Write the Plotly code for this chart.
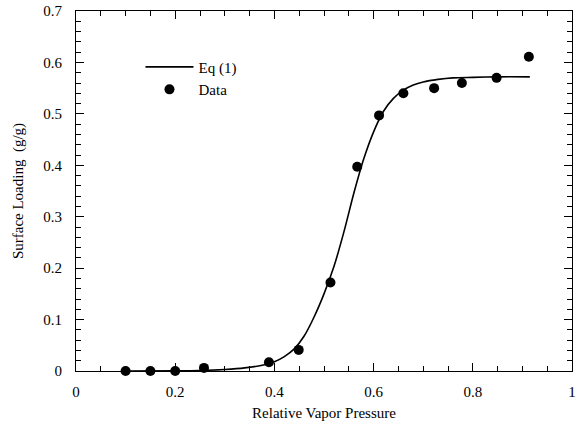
import plotly.graph_objects as go

# Measured data (relative vapor pressure, surface loading g/g)
data_x = [0.10, 0.15, 0.20, 0.258, 0.389, 0.449, 0.513, 0.567, 0.611, 0.660, 0.722, 0.778, 0.848, 0.913]
data_y = [0.000, 0.000, 0.000, 0.006, 0.017, 0.041, 0.172, 0.397, 0.497, 0.540, 0.550, 0.560, 0.570, 0.611]

# Eq (1) curve
curve_x = [0.10, 0.20, 0.25, 0.30, 0.34, 0.38, 0.40, 0.42, 0.44, 0.46, 0.48, 0.50, 0.52, 0.54,
           0.56, 0.58, 0.60, 0.62, 0.64, 0.66, 0.68, 0.70, 0.73, 0.76, 0.80, 0.85, 0.915]
curve_y = [0.000, 0.0003, 0.001, 0.003, 0.006, 0.012, 0.018, 0.028, 0.043, 0.068, 0.105, 0.150,
           0.203, 0.270, 0.345, 0.412, 0.465, 0.505, 0.530, 0.546, 0.556, 0.562, 0.567, 0.570,
           0.571, 0.572, 0.572]

x_ticks = [0, 0.2, 0.4, 0.6, 0.8, 1]
x_labels = ["0", "0.2", "0.4", "0.6", "0.8", "1"]
y_ticks = [0, 0.1, 0.2, 0.3, 0.4, 0.5, 0.6, 0.7]
y_labels = ["0", "0.1", "0.2", "0.3", "0.4", "0.5", "0.6", "0.7"]

FONT = "Liberation Serif, Times New Roman, serif"

fig = go.Figure()
fig.add_trace(go.Scatter(x=curve_x, y=curve_y, mode="lines", name="Eq (1)",
                         line=dict(color="black", width=1.6, shape="spline", smoothing=0.8)))
fig.add_trace(go.Scatter(x=data_x, y=data_y, mode="markers", name="Data",
                         marker=dict(color="black", size=10), cliponaxis=False))

axis_common = dict(showgrid=False, zeroline=False, showline=True, linecolor="black", linewidth=1,
                   ticks="inside", tickcolor="black", mirror="allticks", automargin=False,
                   tickfont=dict(family=FONT, size=15, color="black"))

fig.update_xaxes(range=[0, 1], tickvals=x_ticks, ticktext=x_labels, ticklen=8, ticklabelstandoff=7,
                 minor=dict(dtick=0.05, ticks="inside", ticklen=5, tickcolor="black"),
                 title=dict(text="Relative Vapor Pressure", font=dict(family=FONT, size=15, color="black"), standoff=8),
                 **axis_common)
fig.update_yaxes(range=[0, 0.7], tickvals=y_ticks, ticktext=y_labels, ticklen=8, ticklabelstandoff=10,
                 minor=dict(dtick=0.02, ticks="inside", ticklen=5, tickcolor="black"),
                 title=dict(text="Surface Loading  (g/g)", font=dict(family=FONT, size=15, color="black"), standoff=16),
                 **axis_common)

fig.update_layout(
    width=581, height=426,
    margin=dict(l=76, r=9, t=11, b=55),
    paper_bgcolor="white", plot_bgcolor="white",
    showlegend=True,
    legend=dict(x=0.13, y=0.89, xanchor="left", yanchor="top", bgcolor="rgba(0,0,0,0)",
                font=dict(family=FONT, size=15, color="black"), itemwidth=48, tracegroupgap=0),
    font=dict(family=FONT, color="black"),
)

fig.write_html("out.html", config={"displayModeBar": False},
               post_script="document.body.style.margin='0';")
